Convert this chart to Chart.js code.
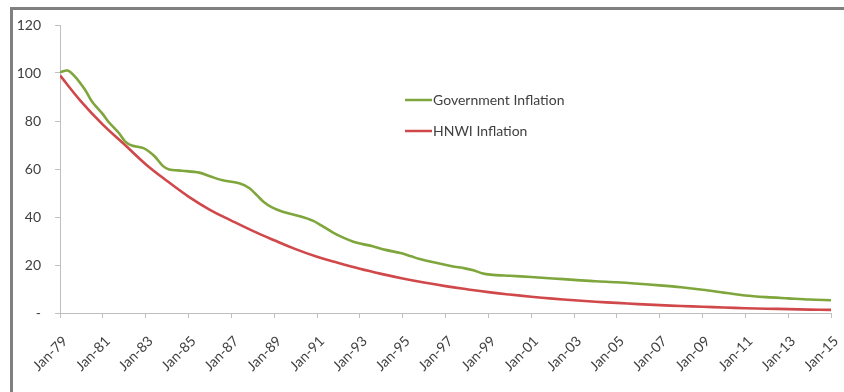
<!DOCTYPE html>
<html>
<head>
<meta charset="utf-8">
<script src="https://cdn.jsdelivr.net/npm/chart.js@4"></script>
<style>
  body { margin: 0; background: #fff; }
  #wrap { position: relative; width: 844px; height: 392px; overflow: hidden; }
  #frame { position: absolute; left: 10px; top: 7px; width: 900px; height: 500px;
           border-left: 3px solid #808080; border-top: 3px solid #808080; }
  canvas { position: absolute; left: 0; top: 0; }
</style>
</head>
<body>
<div id="wrap">
  <div id="frame"></div>
  <canvas id="chart" width="844" height="392"></canvas>
</div>
<script>
// government index (time in years, value)
const govYears = [1979.0, 1979.35, 1979.7, 1980.17, 1980.5, 1980.97, 1981.26, 1981.75, 1982.05, 1982.35,
  1982.9, 1983.2, 1983.45, 1983.8, 1984.1, 1984.7, 1985.5, 1986.0, 1986.55, 1987.4,
  1987.85, 1988.2, 1988.5, 1988.9, 1989.4, 1990.2, 1990.8, 1991.2, 1991.75,
  1992.2, 1992.7, 1993.1, 1993.6, 1994.2, 1994.9, 1995.4, 1995.8, 1996.5, 1997.3,
  1997.9, 1998.3, 1998.7, 1999.1, 2000, 2001, 2002, 2003, 2004, 2005,
  2006, 2007, 2008, 2009, 2010, 2011, 2012, 2013, 2014, 2015];
const govValues = [100.3, 101, 98.5, 93, 88, 83.2, 79.7, 75, 71.4, 69.8,
  68.7, 67, 65, 61.3, 59.8, 59.3, 58.5, 57, 55.4, 54,
  52, 49, 46.4, 44, 42.2, 40.3, 38.5, 36.5, 33.5,
  31.5, 29.7, 28.8, 27.8, 26.3, 25, 23.6, 22.5, 21, 19.5,
  18.6, 17.8, 16.6, 16, 15.5, 15, 14.4, 13.8, 13.2, 12.8,
  12.2, 11.5, 10.7, 9.7, 8.5, 7.3, 6.6, 6.1, 5.6, 5.3];

const hnwiYears = [1979, 1980, 1981, 1982, 1983, 1984, 1985, 1986, 1987, 1988, 1989, 1990,
  1991, 1992, 1993, 1994, 1995, 1996, 1997, 1998, 1999, 2000, 2001, 2002, 2003, 2004,
  2005, 2006, 2007, 2008, 2009, 2010, 2011, 2012, 2013, 2014, 2015];
const hnwiValues = [99, 88, 78.5, 70.3, 62, 55, 48.5, 43, 38.5, 34.2, 30.3, 26.6,
  23.4, 20.8, 18.4, 16.3, 14.4, 12.7, 11.2, 9.9, 8.7, 7.7, 6.8, 6.0, 5.3, 4.7,
  4.2, 3.7, 3.3, 2.9, 2.6, 2.3, 2.0, 1.8, 1.6, 1.4, 1.3];

const seriesNames = ['Government Inflation', 'HNWI Inflation'];
const seriesColors = ['#7fa63c', '#d0484a'];

function toPoints(xs, ys) {
  return xs.map((x, i) => ({ x: x, y: ys[i] }));
}

const fontFamily = 'Lato, "Open Sans", sans-serif';

const legendPlugin = {
  id: 'insideLegend',
  afterDraw(chart) {
    const ctx = chart.ctx;
    const spots = [[405, 100], [405, 131]];
    ctx.save();
    ctx.font = '14px ' + fontFamily;
    ctx.textBaseline = 'middle';
    chart.data.datasets.forEach((ds, i) => {
      const [x, y] = spots[i];
      ctx.strokeStyle = ds.borderColor;
      ctx.lineWidth = 2.5;
      ctx.beginPath();
      ctx.moveTo(x, y);
      ctx.lineTo(x + 27, y);
      ctx.stroke();
      ctx.fillStyle = '#404040';
      ctx.fillText(ds.label, x + 28, y);
    });
    ctx.restore();
  }
};

const tickFont = { family: fontFamily, size: 14 };

new Chart(document.getElementById('chart').getContext('2d'), {
  type: 'line',
  data: {
    datasets: [
      { label: seriesNames[0], data: toPoints(govYears, govValues), borderColor: seriesColors[0],
        borderWidth: 2.6, pointRadius: 0, tension: 0.3, fill: false },
      { label: seriesNames[1], data: toPoints(hnwiYears, hnwiValues), borderColor: seriesColors[1],
        borderWidth: 2.6, pointRadius: 0, tension: 0.4, fill: false }
    ]
  },
  options: {
    responsive: false,
    animation: false,
    layout: { padding: { left: 0, right: 13, top: 25, bottom: 0 } },
    plugins: { legend: { display: false }, tooltip: { enabled: false } },
    scales: {
      x: {
        type: 'linear', min: 1979, max: 2015,
        afterFit(scale) {
          scale.height = 79;
          scale.paddingLeft = 0;
          scale.paddingRight = 0;
        },
        afterBuildTicks(scale) {
          const t = [];
          for (let y = 1979; y <= 2015; y += 2) t.push({ value: y });
          scale.ticks = t;
        },
        ticks: {
          autoSkip: false, minRotation: 45, maxRotation: 45, color: '#404040', font: tickFont,
          padding: 15, labelOffset: 5,
          callback: v => 'Jan-' + String(v).slice(2)
        },
        grid: { drawOnChartArea: false, drawTicks: true, tickLength: 5, color: '#bfbfbf' },
        border: { color: '#bfbfbf' }
      },
      y: {
        min: 0, max: 120,
        afterFit(scale) { scale.width = 60; },
        ticks: { stepSize: 20, color: '#404040', font: tickFont, padding: 14,
          callback: v => v === 0 ? '-' : v },
        grid: { drawOnChartArea: false, drawTicks: true, tickLength: 5, color: '#bfbfbf' },
        border: { color: '#bfbfbf' }
      }
    }
  },
  plugins: [legendPlugin]
});
</script>
</body>
</html>
